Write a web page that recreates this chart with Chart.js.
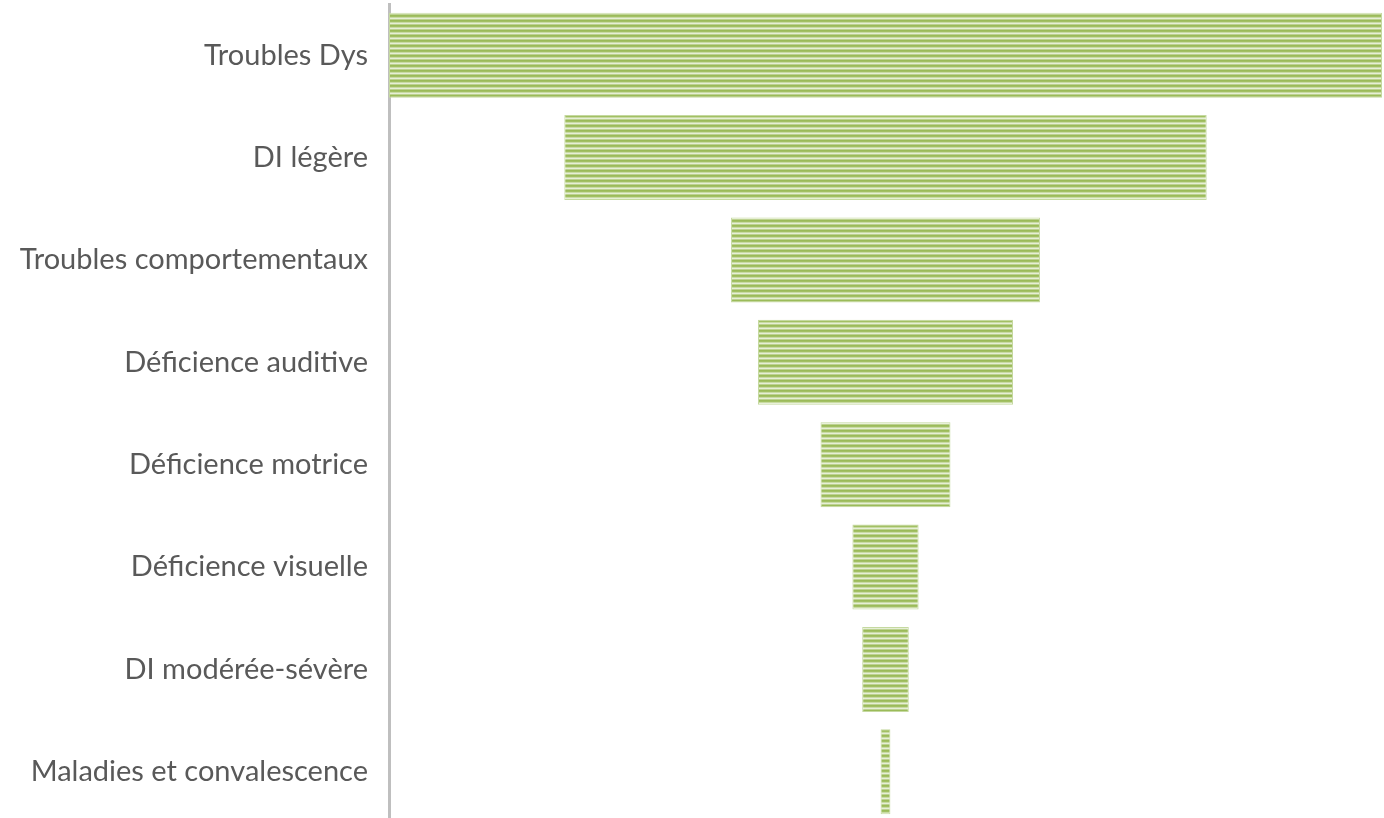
<!DOCTYPE html>
<html><head><meta charset="utf-8">
<script src="https://cdn.jsdelivr.net/npm/chart.js@4/dist/chart.umd.min.js"></script>
<style>html,body{margin:0;padding:0;background:#fff;overflow:hidden}#wrap{position:relative;width:1384px;height:823px}</style>
</head><body><div id="wrap"><canvas id="c"></canvas></div>
<script>
const categories = ["Troubles Dys","DI légère","Troubles comportementaux","Déficience auditive","Déficience motrice","Déficience visuelle","DI modérée-sévère","Maladies et convalescence"];
const values = [40.5, 26.2, 12.6, 10.4, 5.3, 2.7, 1.9, 0.4];
const maxV = Math.max(...values);
const ranges = values.map(v => [(maxV - v) / 2, (maxV + v) / 2]);

function stripes(){
  const p = document.createElement('canvas'); p.width = 4; p.height = 5;
  const g = p.getContext('2d');
  const rows = ['#9bbb59','#a2c064','#c9dba3','#e6efd6','#bdd291'];
  rows.forEach((c,i)=>{g.fillStyle=c; g.fillRect(0,i,4,1);});
  return g.createPattern(p,'repeat');
}
const ctx = document.getElementById('c').getContext('2d');
new Chart(ctx, {
  type: 'bar',
  data: { labels: categories, datasets: [{ data: ranges, backgroundColor: stripes(), borderColor: '#c5d9a0', borderWidth: 1, borderSkipped: false, categoryPercentage: 1, barPercentage: 0.83 }] },
  options: {
    indexAxis: 'y', responsive: true, maintainAspectRatio: false, animation: false,
    layout: { padding: { top: 4, right: 2, bottom: 0, left: 0 } },
    plugins: { legend: { display: false }, tooltip: { enabled: false } },
    scales: {
      x: { display: false, min: 0, max: maxV },
      y: { grid: { display: false, drawTicks: false }, border: { display: true, color: '#bfbfbf', width: 3 },
           ticks: { color: '#595959', padding: 21, font: { family: 'Lato', size: 29 } },
           afterFit: s => { s.width = 389; s.paddingTop = 0; s.paddingBottom = 0; } }
    }
  }
});
</script></body></html>
